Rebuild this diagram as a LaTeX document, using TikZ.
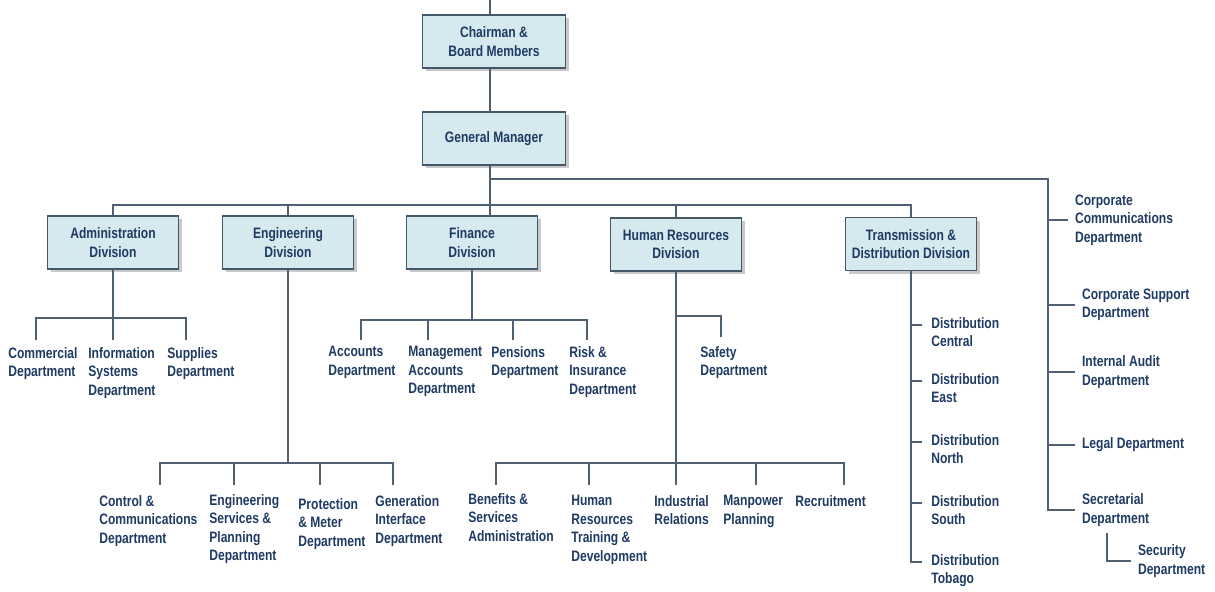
\documentclass[tikz,border=0pt]{standalone}
\usepackage{fontspec}
\setmainfont{Liberation Sans}[FakeStretch=0.8]
\usepackage{tikz}
\usetikzlibrary{shadows,calc}

\definecolor{orgtext}{HTML}{1F3B63}
\definecolor{orgfill}{HTML}{D6E9EF}
\definecolor{orgedge}{HTML}{45586A}
\definecolor{orgline}{HTML}{4E6072}

\tikzset{
	orgfont/.style={font=\fontsize{8.6}{10.5}\selectfont\bfseries, text=orgtext},
	divbox/.style={orgfont, draw=orgedge, line width=0.9pt, fill=orgfill, align=center,
		minimum height=1.06cm, minimum width=2.62cm,
		drop shadow={shadow xshift=1.8pt, shadow yshift=-1.8pt, opacity=0.3, fill=black!70}},
	topbox/.style={divbox, minimum width=2.86cm},
	dept/.style={orgfont, align=left, anchor=north west, inner sep=0pt},
	sidedept/.style={orgfont, align=left, anchor=west, inner sep=0pt, outer xsep=4pt},
	link/.style={draw=orgline, line width=0.85pt},
}

\begin{document}
\begin{tikzpicture}[x=0.02cm, y=-0.02cm]
		\useasboundingbox (0,0) rectangle (1215,592);

		% board, manager and the divisions
		\node[topbox] (chair) at (494,41.5) {Chairman \&\\Board Members};
		\node[topbox] (gm) at (494,138.5) {General Manager};
		\node[divbox] (admin) at (113,242.5) {Administration\\Division};
		\node[divbox] (eng) at (288,242.5) {Engineering\\Division};
		\node[divbox] (fin) at (472,242.5) {Finance\\Division};
		\node[divbox] (hr) at (676,244.5) {Human Resources\\Division};
		\node[divbox] (td) at (911,244) {Transmission \&\\Distribution Division};

		\coordinate (top) at (490,0);
		\coordinate (split) at (490,179);
		\coordinate (divbar) at (490,205);
		\coordinate (corp) at (1048,179);

		\draw[link] (top) -- (top |- chair.north);
		\draw[link] (chair.south -| top) -- (gm.north -| top);
		\draw[link] (gm.south -| top) -- (fin.north -| top);
		\draw[link] (admin.north) |- (divbar) -| (td.north);
		\draw[link] (eng.north) -- (eng.north |- divbar);
		\draw[link] (hr.north) -- (hr.north |- divbar);

		% administration
		\node[dept] (com) at (8,347) {Commercial\\Department};
		\node[dept] (info) at (88,347) {Information\\Systems\\Department};
		\node[dept] (sup) at (167,347) {Supplies\\Department};
		\coordinate (com-in) at (36,340);
		\coordinate (info-in) at (113,340);
		\coordinate (sup-in) at (186,340);
		\coordinate (adbar) at (113,318);
		\draw[link] (admin.south) -- (info-in);
		\draw[link] (com-in) |- (adbar);
		\draw[link] (sup-in) |- (adbar);

		% finance
		\node[dept] (acc) at (328,346) {Accounts\\Department};
		\node[dept] (mgt) at (408,346) {Management\\Accounts\\Department};
		\node[dept] (pen) at (491,346) {Pensions\\Department};
		\node[dept] (risk) at (569,346) {Risk \&\\Insurance\\Department};
		\coordinate (acc-in) at (361,340);
		\coordinate (mgt-in) at (428,340);
		\coordinate (pen-in) at (513,340);
		\coordinate (risk-in) at (587,340);
		\coordinate (finbar) at (472,320);
		\draw[link] (fin.south) -- (finbar);
		\draw[link] (acc-in) |- (finbar);
		\draw[link] (risk-in) |- (finbar);
		\draw[link] (mgt-in) -- (mgt-in |- finbar);
		\draw[link] (pen-in) -- (pen-in |- finbar);

		% engineering
		\node[dept] (ctl) at (99,495) {Control \&\\Communications\\Department};
		\node[dept] (esp) at (209,494) {Engineering\\Services \&\\Planning\\Department};
		\node[dept] (pm) at (298,498) {Protection\\\& Meter\\Department};
		\node[dept] (gen) at (375,495) {Generation\\Interface\\Department};
		\coordinate (ctl-in) at (160,485);
		\coordinate (esp-in) at (234,485);
		\coordinate (pm-in) at (320,485);
		\coordinate (gen-in) at (393,485);
		\coordinate (engbar) at (288,463);
		\draw[link] (eng.south) -- (engbar);
		\draw[link] (ctl-in) |- (engbar);
		\draw[link] (gen-in) |- (engbar);
		\draw[link] (esp-in) -- (esp-in |- engbar);
		\draw[link] (pm-in) -- (pm-in |- engbar);

		% human resources
		\node[dept] (saf) at (700,346) {Safety\\Department};
		\node[dept] (ben) at (468,493) {Benefits \&\\Services\\Administration};
		\node[dept] (hrt) at (571,495) {Human\\Resources\\Training \&\\Development};
		\node[dept] (ind) at (654,495) {Industrial\\Relations};
		\node[dept] (man) at (723,495) {Manpower\\Planning};
		\node[dept] (rec) at (795,495) {Recruitment};
		\coordinate (safbr) at (676,316);
		\coordinate (saf-in) at (721,337);
		\coordinate (ben-in) at (496,485);
		\coordinate (hrt-in) at (589,485);
		\coordinate (ind-in) at (676,485);
		\coordinate (man-in) at (756,485);
		\coordinate (rec-in) at (844,485);
		\coordinate (hrbar) at (676,463);
		\draw[link] (hr.south) -- (ind-in);
		\draw[link] (safbr) -| (saf-in);
		\draw[link] (ben-in) |- (hrbar);
		\draw[link] (rec-in) |- (hrbar);
		\draw[link] (hrt-in) -- (hrt-in |- hrbar);
		\draw[link] (man-in) -- (man-in |- hrbar);

		% distribution regions
		\node[dept] (dc) at (931,317) {Distribution\\Central};
		\node[dept] (de) at (931,373) {Distribution\\East};
		\node[dept] (dn) at (931,434) {Distribution\\North};
		\node[dept] (ds) at (931,495) {Distribution\\South};
		\node[dept] (dt) at (931,554) {Distribution\\Tobago};
		\draw[link] (td.south) |- ($(dt.north west)+(-9,8)$);
		\draw[link] ($(dc.north west)+(-20,8)$) -- ++(11,0);
		\draw[link] ($(de.north west)+(-20,8)$) -- ++(11,0);
		\draw[link] ($(dn.north west)+(-20,8)$) -- ++(11,0);
		\draw[link] ($(ds.north west)+(-20,8)$) -- ++(11,0);

		% departments under the general manager
		\node[sidedept] (cc) at (1068,220) {Corporate\\Communications\\Department};
		\node[sidedept] (cs) at (1075,305) {Corporate Support\\Department};
		\node[sidedept] (ia) at (1075,372) {Internal Audit\\Department};
		\node[sidedept] (leg) at (1075,445) {Legal Department};
		\node[sidedept] (sec) at (1075,510) {Secretarial\\Department};
		\node[sidedept] (secu) at (1131,561) {Security\\Department};
		\coordinate (secdrop) at (1107,533);
		\draw[link] (split) -- (corp) |- (sec.west);
		\draw[link] (corp |- cc.west) -- (cc.west);
		\draw[link] (corp |- cs.west) -- (cs.west);
		\draw[link] (corp |- ia.west) -- (ia.west);
		\draw[link] (corp |- leg.west) -- (leg.west);
		\draw[link] (secdrop) |- (secu.west);
\end{tikzpicture}
\end{document}
